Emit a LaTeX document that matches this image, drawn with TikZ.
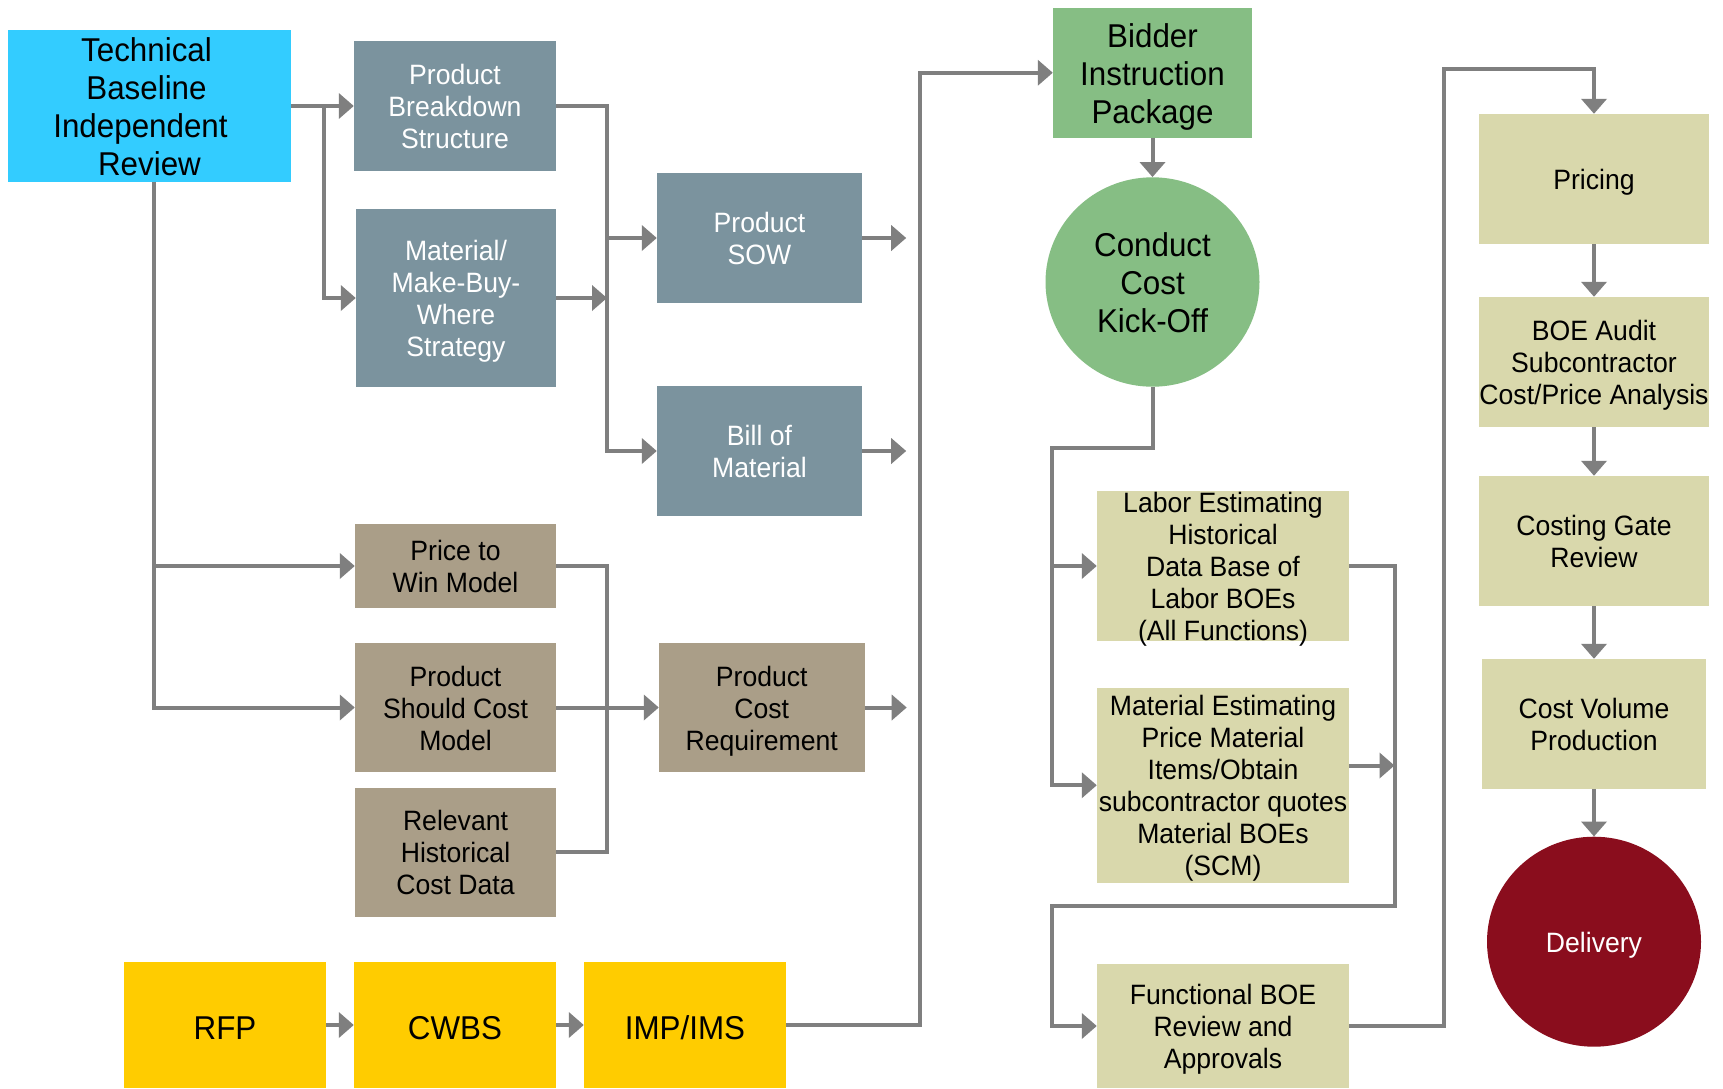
\documentclass[tikz,border=0pt]{standalone}
\usepackage{fontspec}
\setmainfont{Liberation Sans}[FakeStretch=0.95]
\usetikzlibrary{arrows.meta,shapes.geometric}

\definecolor{cyanbox}{HTML}{33CCFF}
\definecolor{slatebox}{HTML}{7B939E}
\definecolor{taupebox}{HTML}{AA9E88}
\definecolor{goldbox}{HTML}{FFCC00}
\definecolor{greenbox}{HTML}{86BE84}
\definecolor{khakibox}{HTML}{D9D8AC}
\definecolor{winebox}{HTML}{8A0D1D}
\definecolor{wirecol}{HTML}{7F7F7F}

% struts: \fl opens the first line with the font's full ascent,
% the end-of-node strut closes the last line with its descent
\newcommand{\fl}{\rule{0pt}{0.97em}}
\newcommand{\flhi}{\rule{0pt}{1.1em}}
\newcommand{\lastdepth}{\rule[-0.21em]{0pt}{0pt}}
% trailing room that nudges a centred line to the left
\newcommand{\nudge}[1]{\hspace*{#1}\mbox{}}

\begin{document}
\begin{tikzpicture}[x=1pt,y=-1pt,
  base/.style={rectangle, inner sep=-8pt, align=center,
    font=\fontsize{28}{32}\selectfont, text=black,
    execute at end node=\lastdepth},
  bigtext/.style={font=\fontsize{33}{38}\selectfont},
  cyanb/.style={base, fill=cyanbox},
  slate/.style={base, fill=slatebox, text=white},
  taupe/.style={base, fill=taupebox},
  gold/.style={base, fill=goldbox},
  greenb/.style={base, fill=greenbox},
  khaki/.style={base, fill=khakibox},
  disc/.style={base, ellipse, inner sep=0pt},
  wire/.style={draw=wirecol, line width=4pt},
  arr/.style={wire, -{Triangle[length=15pt,width=25pt]}},
]
\fill[white] (0,0) rectangle (1723,1088);
\useasboundingbox (0,0) rectangle (1723,1088);

% ---- technical baseline and product definition ----
\node[cyanb, bigtext, minimum width=283pt, minimum height=151.5pt] (tbir) at (149.5,106)
  {\fl Technical\nudge{6pt}\\Baseline\nudge{6pt}\\Independent\nudge{18pt}\\Review};
\node[slate, minimum width=202pt, minimum height=130pt] (pbs) at (455,106)
  {\fl Product\\Breakdown\\Structure};
\node[slate, minimum width=200pt, minimum height=178pt] (mmb) at (456,298)
  {\fl Material/\\Make-Buy-\\Where\\Strategy};
\node[slate, minimum width=205pt, minimum height=129.5pt] (sow) at (759.5,238)
  {\fl Product\\SOW};
\node[slate, minimum width=205pt, minimum height=130pt] (bom) at (759.5,451)
  {\fl Bill of\\Material};

% ---- cost models ----
\node[taupe, minimum width=201pt, minimum height=83.6pt] (ptw) at (455.5,566)
  {\fl Price to\\Win Model};
\node[taupe, minimum width=201pt, minimum height=128.5pt] (pscm) at (455.5,707.5)
  {\fl Product\\Should Cost\\Model};
\node[taupe, minimum width=201pt, minimum height=128.6pt] (rhcd) at (455.5,852.3)
  {\fl Relevant\\Historical\\Cost Data};
\node[taupe, minimum width=205.5pt, minimum height=129.6pt] (pcr) at (761.75,707.5)
  {\fl Product\\Cost\\Requirement};

% ---- solicitation inputs ----
\node[gold, bigtext, minimum width=202pt, minimum height=126pt] (rfp) at (225,1025) {\flhi RFP};
\node[gold, bigtext, minimum width=202pt, minimum height=126pt] (cwbs) at (455,1025) {\flhi CWBS};
\node[gold, bigtext, minimum width=202pt, minimum height=126pt] (imp) at (685,1025) {\flhi IMP/IMS};

% ---- kick-off and estimating ----
\node[greenb, bigtext, minimum width=199pt, minimum height=129.5pt] (bip) at (1152.5,72.75)
  {\fl Bidder\\Instruction\\Package};
\node[disc, bigtext, fill=greenbox, minimum width=214pt, minimum height=209.4pt] (cck) at (1152.5,282)
  {\fl Conduct\\Cost\\Kick-Off};
\node[khaki, minimum width=252pt, minimum height=150.6pt] (leb) at (1223,566)
  {\fl Labor Estimating\\Historical\\Data Base of\\Labor BOEs\\(All Functions)};
\node[khaki, minimum width=252pt, minimum height=194.5pt] (meb) at (1223,785.25)
  {\fl Material Estimating\\Price Material\\Items/Obtain\\subcontractor quotes\\Material BOEs\\(SCM)};
\node[khaki, minimum width=252pt, minimum height=124.6pt] (fboe) at (1223,1026)
  {\fl Functional BOE\\Review and\\Approvals};

% ---- pricing to delivery ----
\node[khaki, minimum width=230pt, minimum height=130pt] (pri) at (1594,179) {\fl Pricing};
\node[khaki, minimum width=230pt, minimum height=130pt] (boe) at (1594,362)
  {\fl BOE Audit\\Subcontractor\\Cost/Price Analysis};
\node[khaki, minimum width=230pt, minimum height=129.7pt] (cgr) at (1594,540.85)
  {\fl Costing Gate\\Review};
\node[khaki, minimum width=224pt, minimum height=129.7pt] (cvp) at (1594,723.85)
  {\fl Cost Volume\\Production};
\node[disc, fill=winebox, text=white, minimum width=214pt, minimum height=210pt] (del) at (1594,941.7)
  {\fl Delivery};

% ---- routing points ----
\coordinate (split) at (324,106);
\coordinate (busA) at (607,0);
\coordinate (busB) at (607,0);
\coordinate (drop) at (154,181.75);
\coordinate (sowout) at ([xshift=44pt]sow.east);
\coordinate (bomout) at ([xshift=44pt]bom.east);
\coordinate (pcrout) at ([xshift=42pt]pcr.east);
\coordinate (riser) at (920,0);
\coordinate (cckbus) at (1051.6,447.5);
\coordinate (loopcorner) at (1394.5,906);
\coordinate (loopback) at (1051.6,906);
\coordinate (rise) at (1443.5,69);

% ---- connectors ----
\draw[arr] (tbir.east) -- (pbs.west);
\draw[arr] (split) |- (mmb.west);
\draw[arr] (pbs.east) -- (pbs.east -| busA) |- (bom.west);
\draw[arr] (busA |- sow.west) -- (sow.west);
\draw[arr] (mmb.east) -- (mmb.east -| busA);
\draw[arr] (sow.east) -- (sowout);
\draw[arr] (bom.east) -- (bomout);

\draw[arr] (drop) |- (pscm.west);
\draw[arr] (drop |- ptw.west) -- (ptw.west);
\draw[wire] (ptw.east) -- (ptw.east -| busB) |- (rhcd.east);
\draw[arr] (pscm.east) -- (pcr.west);
\draw[arr] (pcr.east) -- (pcrout);

\draw[arr] (rfp.east) -- (cwbs.west);
\draw[arr] (cwbs.east) -- (imp.west);
\draw[arr] (imp.east) -- (imp.east -| riser) |- (bip.west);

\draw[arr] (bip.south) -- (cck.north);
\draw[arr] (cck.south) |- (cckbus) |- (meb.west);
\draw[arr] (cckbus |- leb.west) -- (leb.west);
\draw[arr] (leb.east) -| (loopcorner) -- (loopback) |- (fboe.west);
\draw[arr] ([yshift=19.75pt]meb.east) -- ([yshift=19.75pt]meb.east -| loopcorner);
\draw[arr] (fboe.east) -| (rise) -| (pri.north);

\draw[arr] (pri.south) -- (boe.north);
\draw[arr] (boe.south) -- (cgr.north);
\draw[arr] (cgr.south) -- (cvp.north);
\draw[arr] (cvp.south) -- (del.north);
\end{tikzpicture}
\end{document}
